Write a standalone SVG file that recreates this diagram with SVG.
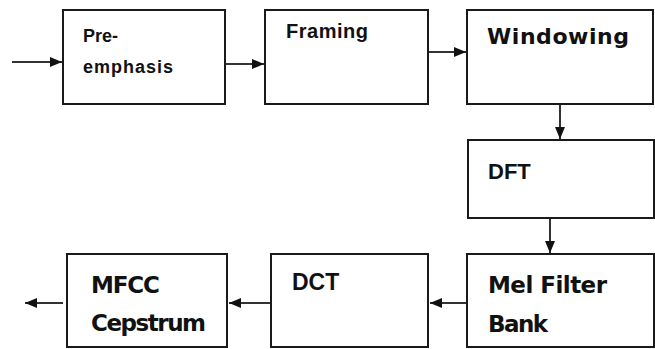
<svg xmlns="http://www.w3.org/2000/svg" width="655" height="349" viewBox="0 0 655 349">
<style>
.box{fill:#fff;stroke:#1a1a1a;stroke-width:2}
.lbl{font-family:"DejaVu Sans","Liberation Sans",sans-serif;font-weight:bold;fill:#111}
.lb2{font-family:"Liberation Sans",Arial,sans-serif;font-weight:bold;fill:#111}
.c{stroke:#333;stroke-width:2;fill:none}
</style>
<defs>
<marker id="ah" viewBox="0 0 12 10" refX="12" refY="5" markerWidth="12" markerHeight="10" markerUnits="userSpaceOnUse" orient="auto">
<path d="M0,0 L12,5 L0,10 Z" fill="#111"/>
</marker>
</defs>
<rect width="655" height="349" fill="#fff"/>
<g id="connectors">
<line class="c" x1="12" y1="62" x2="62" y2="62" marker-end="url(#ah)"/>
<line class="c" x1="226" y1="64" x2="264" y2="64" marker-end="url(#ah)"/>
<line class="c" x1="429" y1="52" x2="466" y2="52" marker-end="url(#ah)"/>
<line class="c" x1="560" y1="105" x2="560" y2="139" marker-end="url(#ah)"/>
<line class="c" x1="550" y1="219" x2="550" y2="253" marker-end="url(#ah)"/>
<line class="c" x1="467" y1="303" x2="430" y2="303" marker-end="url(#ah)"/>
<line class="c" x1="270" y1="303" x2="229" y2="303" marker-end="url(#ah)"/>
<line class="c" x1="63" y1="303" x2="25" y2="303" marker-end="url(#ah)"/>
</g>
<g id="preemphasis">
<rect class="box" x="63" y="10" width="162" height="94"/>
<text class="lb2" x="83" y="42" font-size="18">Pre-</text>
<text class="lb2" x="83" y="73" font-size="18" textLength="90">emphasis</text>
</g>
<g id="framing">
<rect class="box" x="265" y="10" width="163" height="94"/>
<text class="lb2" x="286" y="38" font-size="20" textLength="82">Framing</text>
</g>
<g id="windowing">
<rect class="box" x="467" y="10" width="186" height="94"/>
<text class="lbl" x="487" y="44" font-size="22" textLength="142">Windowing</text>
</g>
<g id="dft">
<rect class="box" x="468" y="140" width="186" height="78"/>
<text class="lb2" x="488" y="179" font-size="22">DFT</text>
</g>
<g id="melfilterbank">
<rect class="box" x="467" y="254" width="187" height="93"/>
<text class="lbl" x="488" y="293" font-size="23" textLength="119">Mel Filter</text>
<text class="lbl" x="488" y="332" font-size="23" textLength="60">Bank</text>
</g>
<g id="dct">
<rect class="box" x="271" y="254" width="157" height="93"/>
<text class="lb2" x="292" y="290" font-size="23">DCT</text>
</g>
<g id="mfcc">
<rect class="box" x="67" y="254" width="160" height="93"/>
<text class="lbl" x="91" y="293" font-size="23" textLength="69">MFCC</text>
<text class="lbl" x="91" y="331" font-size="23" textLength="115">Cepstrum</text>
</g>
</svg>
